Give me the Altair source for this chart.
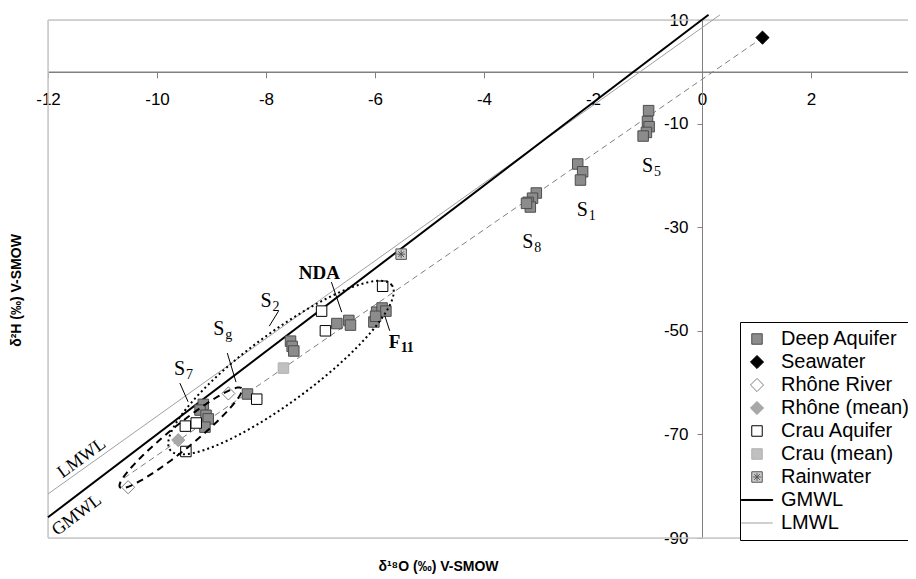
import altair as alt
import numpy as np
import pandas as pd

# ---------------- data ----------------
deep_x = [-0.98, -1.00, -0.97, -1.02, -1.08, -2.28, -2.19, -2.23, -3.04, -3.11,
          -3.19, -3.15, -3.22, -6.70, -6.48, -6.45, -6.02, -5.97, -5.87, -5.80,
          -5.99, -7.55, -7.52, -7.49, -8.34, -9.15, -9.21, -9.10, -9.06, -9.12]
deep_y = [-7.5, -9.6, -10.6, -11.7, -12.4, -17.8, -19.3, -20.9, -23.4, -24.4,
          -25.2, -26.1, -25.4, -48.6, -48.0, -48.9, -48.3, -46.4, -45.6, -46.2,
          -47.2, -52.0, -53.0, -53.9, -62.2, -64.2, -65.3, -66.3, -67.0, -68.6]
sea_x = [1.11]
sea_y = [6.6]
rhone_x = [-8.69, -10.53]
rhone_y = [-62.1, -80.2]
rhone_mean_x = [-9.61]
rhone_mean_y = [-71.1]
crau_x = [-5.86, -6.98, -6.91, -8.17, -9.48, -9.28, -9.47]
crau_y = [-41.4, -46.2, -50.0, -63.2, -68.4, -67.8, -73.3]
crau_mean_x = [-7.68]
crau_mean_y = [-57.2]
rain_x = [-5.52]
rain_y = [-35.2]

gmwl_x = [-12.0, 0.12]
gmwl_y = [-86.0, 11.0]
lmwl_x = [-12.0, 0.33]
lmwl_y = [-81.5, 11.0]
mix_x = [-10.6, 1.11]
mix_y = [-78.4, 6.6]

# ellipse annotations: two tips (data units) and half-width (delta2H units)
dot_tips = [(-9.76, -73.0), (-5.69, -41.2)]
dot_half = 6.6
dash_tips = [(-10.68, -80.2), (-8.45, -61.1)]
dash_half = 2.3

series_names = ["Deep Aquifer", "Seawater", "Rhône River", "Rhône (mean)",
                "Crau Aquifer", "Crau (mean)", "Rainwater", "GMWL", "LMWL"]

x_ticks = [-12, -10, -8, -6, -4, -2, 0, 2, 4]
y_ticks = [10, -10, -30, -50, -70, -90]

s_base = ["S", "S", "S", "S", "S", "S"]
s_sub = ["5", "1", "8", "2", "g", "7"]
s_x = [-1.10, -2.30, -3.30, -8.10, -8.97, -9.69]
s_y = [-19.3, -27.8, -34.0, -45.4, -50.8, -58.5]

lead_x = [-6.80, -5.82, -7.77, -8.71, -9.58]
lead_y = [-40.6, -47.1, -46.2, -54.3, -60.1]
lead_x2 = [-6.61, -5.73, -7.94, -8.55, -9.43]
lead_y2 = [-46.4, -50.0, -49.1, -59.9, -63.7]

# ---------------- layout ----------------
W, H = 872, 518
X_DOM = [-12, 4]
Y_DOM = [-90, 10]
K = (W / 16.0) / (H / 100.0)   # px per x unit / px per y unit

xs = alt.Scale(domain=X_DOM, nice=False, zero=False)
ys = alt.Scale(domain=Y_DOM, nice=False, zero=False)

SQ = "M-1,-1L1,-1L1,1L-1,1Z"
DM = "M0,-1.25L1.25,0L0,1.25L-1.25,0Z"
RAIN = ("M-1,-1L1,-1L1,1L-1,1Z M-0.75,0L0.75,0 M0,-0.75L0,0.75 "
        "M-0.55,-0.55L0.55,0.55 M-0.55,0.55L0.55,-0.55")
GM = "M-3,-0.1L3,-0.1L3,0.1L-3,0.1Z"
LM = "M-3,0L3,0"

shapes = [SQ, DM, DM, DM, SQ, SQ, RAIN, GM, LM]
fills = ["#8c8c8c", "black", "white", "#a8a8a8", "white", "#c0c0c0", "#cccccc", "black", "#a0a0a0"]
strokes = ["#4d4d4d", "black", "#808080", "#a0a0a0", "black", "#b0b0b0", "#555555", "black", "#a0a0a0"]

rows = []
for name, xx, yy in [("Deep Aquifer", deep_x, deep_y), ("Seawater", sea_x, sea_y),
                     ("Rhône River", rhone_x, rhone_y), ("Rhône (mean)", rhone_mean_x, rhone_mean_y),
                     ("Crau Aquifer", crau_x, crau_y), ("Crau (mean)", crau_mean_x, crau_mean_y),
                     ("Rainwater", rain_x, rain_y)]:
    for a, b in zip(xx, yy):
        rows.append({"x": a, "y": b, "series": name})
pts = pd.DataFrame(rows)


def ellipse(tips, half, n=120):
    (x1, y1), (x2, y2) = tips
    X1, X2 = x1 * K, x2 * K
    cx, cy = (X1 + X2) / 2, (y1 + y2) / 2
    ax, ay = (X2 - X1) / 2, (y2 - y1) / 2
    L = np.hypot(ax, ay)
    bx, by = -ay / L * half, ax / L * half
    t = np.linspace(0, 2 * np.pi, n)
    X = cx + np.cos(t) * ax + np.sin(t) * bx
    Y = cy + np.cos(t) * ay + np.sin(t) * by
    return pd.DataFrame({"x": X / K, "y": Y, "i": np.arange(n)})


legend = alt.Legend(title=None, orient="none", legendX=692, legendY=302,
                    strokeColor="black", fillColor="white", padding=7,
                    labelFont="Liberation Sans", labelFontSize=20, labelColor="black",
                    symbolSize=110, symbolStrokeWidth=1, rowPadding=3, labelOffset=14)

YOFF = W * 0.75
x_axis = alt.Axis(values=x_ticks, offset=-(H * 0.9), grid=False, labelFlush=False,
                  labelExpr="'' + datum.value",
                  domainColor="#808080", domainWidth=1.5, tickColor="#808080",
                  tickSize=6, labelFontSize=17, labelFont="Liberation Sans",
                  labelColor="black", labelPadding=14,
                  title="δ¹⁸O (‰) V-SMOW", titleFont="Liberation Sans", titleFontSize=14,
                  titleFontWeight="bold", titleColor="black", titleX=390, titleY=488)
y_axis = alt.Axis(values=y_ticks, offset=-YOFF, grid=False, labelFlush=False,
                  labelExpr="'' + datum.value",
                  domainColor="#808080", domainWidth=1, tickColor="#808080",
                  tickSize=5, labelFontSize=17, labelFont="Liberation Sans",
                  labelColor="black", labelPadding=9,
                  title="δ²H (‰) V-SMOW", titleFont="Liberation Sans", titleFontSize=14,
                  titleFontWeight="bold", titleColor="black", titleX=-(YOFF + 25), titleY=270)


def X(f="x"):
    return alt.X(f + ":Q", scale=xs, axis=x_axis)


def Y(f="y"):
    return alt.Y(f + ":Q", scale=ys, axis=y_axis)


# frame
frame_h = alt.Chart(pd.DataFrame({"v": [10, -90]})).mark_rule(color="#c8c8c8", strokeWidth=1.5).encode(
    y=Y("v"))
frame_v = alt.Chart(pd.DataFrame({"v": [-12]})).mark_rule(color="#c8c8c8", strokeWidth=1.5).encode(
    x=X("v"))


def line_layer(xx, yy, **kw):
    return alt.Chart(pd.DataFrame({"x": xx, "y": yy})).mark_line(clip=False, **kw).encode(x=X(), y=Y())


mix = line_layer(mix_x, mix_y, color="#808080", strokeWidth=1, strokeDash=[6, 4])
lmwl = line_layer(lmwl_x, lmwl_y, color="#a0a0a0", strokeWidth=1)
gmwl = line_layer(gmwl_x, gmwl_y, color="black", strokeWidth=2)

points = alt.Chart(pts).mark_point(filled=True, opacity=1, strokeWidth=1, size=110).encode(
    x=X(), y=Y(),
    fill=alt.Fill("series:N", scale=alt.Scale(domain=series_names, range=fills), legend=legend),
    stroke=alt.Stroke("series:N", scale=alt.Scale(domain=series_names, range=strokes), legend=legend),
    shape=alt.Shape("series:N", scale=alt.Scale(domain=series_names, range=shapes), legend=legend),
)

dot_ell = alt.Chart(ellipse(dot_tips, dot_half)).mark_line(color="black", strokeWidth=2, strokeDash=[2, 3]).encode(
    x=X(), y=Y(), order="i:Q")
dash_ell = alt.Chart(ellipse(dash_tips, dash_half)).mark_line(color="black", strokeWidth=2, strokeDash=[7, 5]).encode(
    x=X(), y=Y(), order="i:Q")

leaders = alt.Chart(pd.DataFrame({"x": lead_x, "y": lead_y, "x2": lead_x2, "y2": lead_y2})).mark_rule(
    color="black", strokeWidth=1).encode(x=X(), y=Y(), x2="x2:Q", y2="y2:Q")

sdf = pd.DataFrame({"x": s_x, "y": s_y, "b": s_base, "s": s_sub})
s_main = alt.Chart(sdf).mark_text(font="Liberation Serif", fontSize=20, align="left", baseline="alphabetic",
                                  color="black").encode(x=X(), y=Y(), text="b:N")
s_subs = alt.Chart(sdf).mark_text(font="Liberation Serif", fontSize=14, align="left", baseline="alphabetic",
                                  dx=12, dy=4, color="black").encode(x=X(), y=Y(), text="s:N")

nda = alt.Chart(pd.DataFrame({"x": [-7.40], "y": [-40.0], "t": ["NDA"]})).mark_text(
    font="Liberation Serif", fontSize=19, fontWeight="bold", align="left", baseline="alphabetic",
    color="black").encode(x=X(), y=Y(), text="t:N")
f_main = alt.Chart(pd.DataFrame({"x": [-5.75], "y": [-53.3], "t": ["F"]})).mark_text(
    font="Liberation Serif", fontSize=19, fontWeight="bold", align="left", baseline="alphabetic",
    color="black").encode(x=X(), y=Y(), text="t:N")
f_sub = alt.Chart(pd.DataFrame({"x": [-5.75], "y": [-53.3], "s": ["11"]})).mark_text(
    font="Liberation Serif", fontSize=14, fontWeight="bold", align="left", baseline="alphabetic",
    dx=12, dy=4, color="black").encode(x=X(), y=Y(), text="s:N")

lm_txt = alt.Chart(pd.DataFrame({"x": [-11.38], "y": [-74.6], "t": ["LMWL"]})).mark_text(
    font="Liberation Serif", fontSize=18, angle=324, align="center", baseline="middle",
    color="black").encode(x=X(), y=Y(), text="t:N")
gm_txt = alt.Chart(pd.DataFrame({"x": [-11.47], "y": [-85.6], "t": ["GMWL"]})).mark_text(
    font="Liberation Serif", fontSize=18, angle=323, align="center", baseline="middle",
    color="black").encode(x=X(), y=Y(), text="t:N")

chart = alt.layer(
    frame_h, frame_v, mix, lmwl, gmwl, points, dot_ell, dash_ell, leaders,
    s_main, s_subs, nda, f_main, f_sub, lm_txt, gm_txt
).properties(
    width=W, height=H,
    autosize=alt.AutoSizeParams(type="none"),
    padding={"left": 40, "top": 12, "right": -12, "bottom": 41},
).configure_view(stroke=None).configure(background="white")

chart.save("out.html", embed_options={"renderer": "svg", "actions": False})
